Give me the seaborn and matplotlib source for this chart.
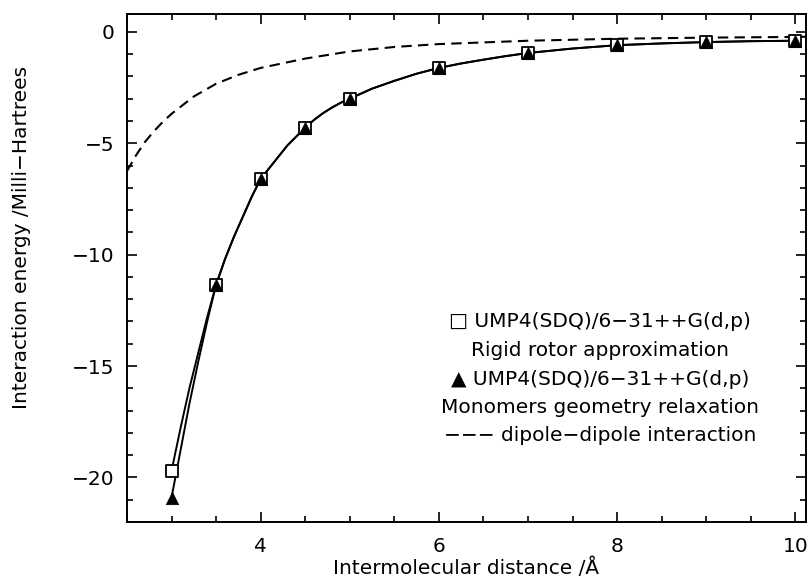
import numpy as np
import pandas as pd
import matplotlib
matplotlib.use("Agg")
import matplotlib.pyplot as plt
import seaborn as sns
from matplotlib.ticker import MultipleLocator

sns.set_style("ticks")
plt.rcParams["font.family"] = ["DejaVu Sans"]
plt.rcParams["font.size"] = 14.5
plt.rcParams["text.color"] = "black"
plt.rcParams["axes.labelcolor"] = "black"
plt.rcParams["xtick.color"] = "black"
plt.rcParams["ytick.color"] = "black"

# computed points (markers)
dist = [3.0, 3.5, 4.0, 4.5, 5.0, 6.0, 7.0, 8.0, 9.0, 10.0]
rigid = [-19.7, -11.35, -6.6, -4.3, -3.0, -1.62, -0.95, -0.6, -0.46, -0.4]
relaxed = [-20.9, -11.35, -6.6, -4.3, -3.0, -1.62, -0.95, -0.6, -0.46, -0.4]

# smooth fitted curves
curve_x = [3.0, 3.1, 3.2, 3.3, 3.4, 3.5, 3.6, 3.7, 3.8, 3.9, 4.0, 4.1, 4.2, 4.3, 4.4, 4.5,
           4.6, 4.7, 4.8, 4.9, 5.0, 5.25, 5.5, 5.75, 6.0, 6.25, 6.5, 6.75, 7.0, 7.5, 8.0,
           8.5, 9.0, 9.5, 10.0]
rigid_curve = [-19.7, -17.8, -16.0, -14.4, -12.8, -11.35, -10.2, -9.2, -8.3, -7.4, -6.6,
               -6.1, -5.6, -5.1, -4.7, -4.3, -3.95, -3.65, -3.4, -3.18, -3.0, -2.55, -2.2,
               -1.88, -1.62, -1.42, -1.25, -1.09, -0.95, -0.75, -0.6, -0.52, -0.46, -0.42, -0.4]
relaxed_curve = [-20.9, -18.8, -16.7, -14.8, -13.0, -11.35, -10.2, -9.2, -8.3, -7.4, -6.6,
                 -6.1, -5.6, -5.1, -4.7, -4.3, -3.95, -3.65, -3.4, -3.18, -3.0, -2.55, -2.2,
                 -1.88, -1.62, -1.42, -1.25, -1.09, -0.95, -0.75, -0.6, -0.52, -0.46, -0.42, -0.4]

# dipole-dipole interaction, traced
dip_x = [2.5, 2.6, 2.7, 2.8, 2.9, 3.0, 3.25, 3.5, 3.75, 4.0, 4.5, 5.0, 5.5, 6.0, 7.0, 8.0, 9.0, 10.0, 10.12]
dip_y = [-6.25, -5.55, -4.95, -4.47, -4.05, -3.68, -2.9, -2.33, -1.93, -1.62, -1.2, -0.88,
         -0.68, -0.55, -0.4, -0.31, -0.26, -0.23, -0.22]

legend_lines = [
    "\u25a1 UMP4(SDQ)/6\u221231++G(d,p)",
    "Rigid rotor approximation",
    "\u25b2 UMP4(SDQ)/6\u221231++G(d,p)",
    "Monomers geometry relaxation",
    "\u2212\u2212\u2212 dipole\u2212dipole interaction",
]

fig = plt.figure(figsize=(8.11, 5.81), dpi=100)
ax = fig.add_axes([0.1566, 0.1015, 0.8372, 0.8744])

sns.lineplot(x=dip_x, y=dip_y, color="black", lw=1.5, linestyle=(0, (5, 3)), ax=ax)
sns.lineplot(x=curve_x, y=rigid_curve, color="black", lw=1.4, ax=ax)
sns.lineplot(x=curve_x, y=relaxed_curve, color="black", lw=1.4, ax=ax)
sns.scatterplot(x=dist, y=rigid, marker="s", s=65, facecolor="white",
                edgecolor="black", linewidth=1.3, zorder=3, ax=ax)
sns.scatterplot(x=dist, y=relaxed, marker="^", s=80, color="black",
                edgecolor="black", linewidth=0.5, zorder=4, ax=ax)

ax.set_xlim(2.5, 10.12)
ax.set_ylim(-22, 0.8)
ax.xaxis.set_major_locator(MultipleLocator(2))
ax.xaxis.set_minor_locator(MultipleLocator(0.5))
ax.yaxis.set_major_locator(MultipleLocator(5))
ax.yaxis.set_minor_locator(MultipleLocator(1))
ax.tick_params(which="both", direction="in", top=True, right=True, width=1.2, colors="black")
ax.tick_params(which="major", length=7)
ax.tick_params(which="minor", length=4)
ax.tick_params(axis="x", which="major", pad=11)
ax.tick_params(axis="y", which="major", pad=9)
ax.set_xticks([4, 6, 8, 10])
ax.set_xticklabels(["4", "6", "8", "10"])
for s in ax.spines.values():
    s.set_linewidth(1.4)
    s.set_color("black")

ax.set_xlabel("Intermolecular distance /\u00c5", labelpad=1)
ax.set_ylabel("Interaction energy /Milli\u2212Hartrees")
ax.yaxis.set_label_coords(-0.142, 0.56)

ys = [0.394, 0.337, 0.281, 0.226, 0.170]
for txt, yy in zip(legend_lines, ys):
    ax.text(0.697, yy, txt, transform=ax.transAxes, ha="center", va="center")

fig.savefig("out.png", dpi=100)
